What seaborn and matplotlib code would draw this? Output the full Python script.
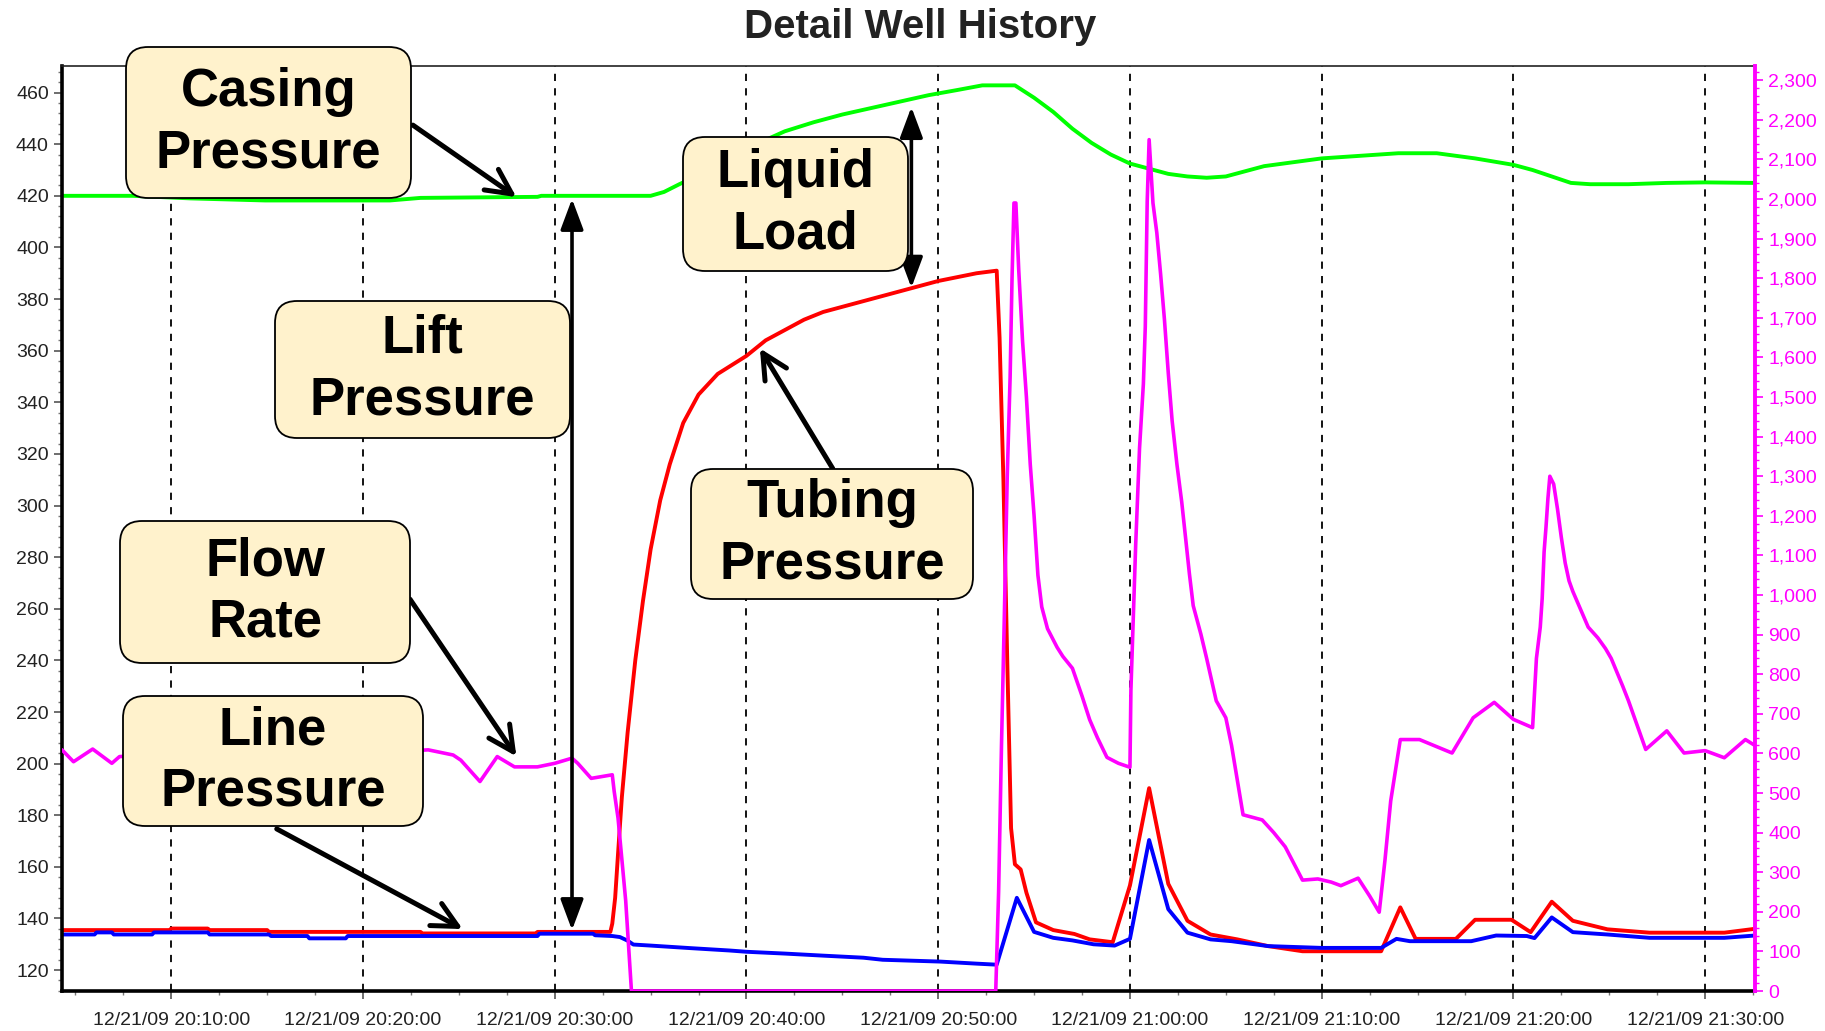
import matplotlib
matplotlib.use("Agg")
import matplotlib.pyplot as plt
import matplotlib.transforms as mtransforms
from matplotlib.patches import FancyBboxPatch
from matplotlib.ticker import MultipleLocator, AutoMinorLocator, FuncFormatter, FixedLocator
import seaborn as sns

# time axis: minutes after 12/21/09 20:00:00
casing_t = [4.3, 8.0, 11.0, 14.9, 21.4, 23.0, 29.1, 29.3, 35.0, 35.7, 36.5, 37.5, 39.0, 40.5, 42.0,
            43.5, 45.0, 46.5, 48.0, 49.5, 51.0, 52.3, 54.0, 55.0, 56.0, 57.0, 58.0, 59.0, 60.0, 61.0,
            62.0, 63.0, 64.0, 65.0, 66.0, 67.0, 68.0, 70.0, 72.0, 74.0, 76.0, 78.0, 80.0, 81.0, 82.0,
            83.0, 84.0, 86.0, 88.0, 90.0, 92.6]
casing_psi = [420.0, 420.0, 419.0, 418.2, 418.2, 419.2, 419.6, 420.0, 420.0, 421.5, 424.5, 428.0, 434.0,
              440.0, 445.0, 448.5, 451.5, 454.0, 456.5, 459.0, 461.0, 462.8, 462.8, 458.0, 452.5, 446.0,
              440.5, 436.0, 432.5, 430.5, 428.5, 427.5, 427.0, 427.5, 429.5, 431.5, 432.5, 434.5, 435.5,
              436.5, 436.5, 434.5, 432.0, 430.0, 427.5, 425.0, 424.5, 424.5, 425.0, 425.2, 425.0]

tubing_t = [4.3, 9.9, 10.0, 11.9, 12.0, 15.0, 15.1, 23.0, 23.1, 29.0, 29.1, 32.9, 33.0, 33.15, 33.3,
            33.5, 33.8, 34.2, 34.6, 35.0, 35.5, 36.0, 36.7, 37.5, 38.5, 40.0, 41.0, 42.0, 43.0, 44.0,
            45.0, 46.0, 47.0, 48.0, 49.0, 50.0, 51.0, 52.0, 53.05, 53.2, 53.4, 53.6, 53.8, 54.0, 54.3,
            54.6, 55.1, 56.0, 57.1, 57.9, 59.1, 60.0, 61.0, 62.0, 63.0, 64.2, 65.6, 67.2, 69.0, 73.1,
            74.1, 74.9, 77.0, 78.0, 79.9, 80.9, 82.0, 83.1, 84.9, 87.1, 91.0, 92.6]
tubing_psi = [135.5, 135.5, 136.1, 136.1, 135.5, 135.5, 134.8, 134.8, 134.2, 134.2, 134.8, 134.8, 138.0,
              148.0, 165.0, 187.0, 212.0, 240.0, 263.0, 283.0, 302.0, 316.0, 332.0, 343.0, 351.0, 358.0,
              364.0, 368.0, 372.0, 375.0, 377.0, 379.0, 381.0, 383.0, 385.0, 387.0, 388.5, 390.0, 391.0,
              365.0, 310.0, 240.0, 175.0, 161.0, 159.0, 150.0, 138.5, 135.5, 134.0, 131.9, 130.8, 152.8,
              190.5, 153.4, 139.1, 133.8, 131.9, 129.3, 127.3, 127.3, 144.3, 132.1, 132.1, 139.5, 139.5,
              134.7, 146.5, 139.1, 135.8, 134.5, 134.5, 136.0]

line_t = [4.3, 6.0, 6.1, 6.9, 7.0, 9.0, 9.1, 11.9, 12.0, 15.1, 15.2, 17.1, 17.2, 19.1, 19.2, 29.1, 29.2,
          32.0, 32.1, 33.0, 33.4, 33.8, 34.1, 35.0, 37.1, 39.1, 40.0, 42.0, 44.0, 46.1, 47.1, 50.1, 52.0,
          53.05, 54.1, 55.0, 56.0, 57.0, 58.1, 59.2, 60.0, 61.0, 62.0, 63.0, 64.2, 65.3, 67.2, 70.0, 73.1,
          73.9, 74.6, 77.8, 79.1, 80.7, 81.1, 82.0, 83.1, 84.9, 87.1, 91.0, 92.6]
line_psi = [133.8, 133.8, 134.6, 134.6, 133.8, 133.8, 134.6, 134.6, 133.8, 133.8, 133.2, 133.2, 132.3,
            132.3, 133.2, 133.2, 134.1, 134.1, 133.5, 133.2, 132.8, 131.4, 129.9, 129.5, 128.5, 127.6,
            127.1, 126.4, 125.6, 124.8, 124.0, 123.3, 122.5, 122.1, 148.0, 134.8, 132.5, 131.5, 130.0,
            129.5, 132.1, 170.4, 143.6, 134.5, 131.9, 131.2, 129.3, 128.6, 128.6, 132.1, 131.2, 131.2,
            133.4, 133.2, 132.4, 140.4, 134.7, 133.8, 132.5, 132.5, 133.4]

flow_t = [4.3, 4.9, 5.9, 6.9, 7.3, 10.0, 14.0, 18.0, 22.0, 23.4, 24.7, 25.1, 26.1, 27.0, 27.9, 29.1,
          30.0, 30.9, 31.2, 31.9, 33.0, 33.1, 33.3, 33.7, 34.0, 53.0, 53.15, 53.3, 53.45, 53.6, 53.75,
          53.85, 53.95, 54.05, 54.2, 54.4, 54.6, 54.8, 55.0, 55.2, 55.4, 55.7, 56.2, 56.5, 57.0, 57.5,
          57.9, 58.3, 58.8, 59.4, 60.0, 60.05, 60.3, 60.5, 60.7, 60.8, 60.9, 61.0, 61.2, 61.4, 61.6,
          61.8, 62.0, 62.2, 62.45, 62.7, 62.9, 63.1, 63.3, 63.7, 64.0, 64.5, 65.0, 65.3, 65.9, 66.9,
          67.5, 68.1, 69.0, 69.8, 70.5, 71.0, 71.9, 72.5, 73.0, 73.3, 73.6, 74.1, 75.1, 76.8, 77.9,
          79.0, 80.0, 81.0, 81.2, 81.4, 81.5, 81.6, 81.7, 81.8, 81.9, 82.1, 82.3, 82.5, 82.7, 82.9,
          83.1, 83.5, 83.9, 84.4, 84.8, 85.1, 85.7, 86.0, 86.9, 88.0, 88.9, 90.0, 91.0, 92.1, 92.6]
flow_rate = [609, 579, 611, 575, 592, 600, 595, 602, 605, 609, 596, 583, 529, 592, 566, 566,
             575, 588, 575, 537, 546, 504, 437, 228, 0, 0, 250, 620, 950, 1300, 1550,
             1800, 1990, 1990, 1820, 1640, 1500, 1330, 1200, 1050, 970, 915, 868, 845, 815, 745,
             685, 640, 590, 575, 565, 760, 1128, 1371, 1533, 1678, 1994, 2150, 1990, 1915, 1810,
             1695, 1560, 1440, 1330, 1235, 1145, 1054, 973, 901, 840, 733, 690, 620, 445, 432,
             400, 364, 280, 283, 275, 266, 285, 240, 199, 330, 480, 635, 635, 601, 690,
             729, 686, 665, 840, 919, 991, 1109, 1172, 1244, 1300, 1280, 1217, 1145, 1081, 1036,
             1009, 964, 919, 892, 865, 840, 770, 733, 610, 657, 601, 607, 589, 635, 620]

left_ticks = list(range(120, 461, 20))
right_ticks = list(range(0, 2301, 100))
time_ticks = list(range(10, 91, 10))

GREEN, RED, BLUE, MAGENTA = "#00ff00", "#ff0000", "#0000ff", "#ff00ff"
BOX_FC = "#fff2cc"

sns.set_style("ticks")
plt.rcParams["font.family"] = ["Liberation Sans", "DejaVu Sans"]

W, H = 1825, 1031
fig = plt.figure(figsize=(W / 100, H / 100), dpi=100)
ax = fig.add_axes([62 / W, 1 - 991 / H, (1755 - 62) / W, (991 - 66) / H])
ax2 = ax.twinx()

lw = 2.8
sns.lineplot(x=casing_t, y=casing_psi, ax=ax, color=GREEN, lw=lw, estimator=None, sort=False)
sns.lineplot(x=tubing_t, y=tubing_psi, ax=ax, color=RED, lw=lw, estimator=None, sort=False)
sns.lineplot(x=line_t, y=line_psi, ax=ax, color=BLUE, lw=lw, estimator=None, sort=False)
sns.lineplot(x=flow_t, y=flow_rate, ax=ax2, color=MAGENTA, lw=2.6, estimator=None, sort=False)

ax.set_xlim(4.3, 92.6)
ax.set_ylim(111.9, 470.3)
ax2.set_ylim(0, 2336)
ax.set_xlabel("")
ax.set_ylabel("")
ax2.set_ylabel("")

ax.xaxis.set_major_locator(FixedLocator(time_ticks))
ax.xaxis.set_minor_locator(MultipleLocator(2.5))
ax.xaxis.set_major_formatter(FuncFormatter(
    lambda m, p: "12/21/09 %d:%02d:00" % (20 + int(round(m)) // 60, int(round(m)) % 60)))
ax.set_yticks(left_ticks)
ax.yaxis.set_minor_locator(AutoMinorLocator(5))
ax2.set_yticks(right_ticks)
ax2.yaxis.set_minor_locator(AutoMinorLocator(5))
ax2.yaxis.set_major_formatter(FuncFormatter(lambda v, p: f"{int(v):,}"))

ax.grid(axis="x", which="major", color="black", linestyle=(0, (4, 4)), lw=1.3)
ax.grid(axis="y", visible=False)

ax.tick_params(axis="both", which="major", direction="out", length=6, width=1.2,
               color="#555555", labelsize=14, labelcolor="#222222")
ax.tick_params(axis="both", which="minor", direction="out", length=3, width=1, color="#777777")
ax.tick_params(axis="x", pad=9)
ax2.tick_params(axis="y", which="major", direction="out", length=6, width=1.2,
                color=MAGENTA, labelsize=14, labelcolor=MAGENTA)
ax2.tick_params(axis="y", which="minor", direction="out", length=3, width=1, color=MAGENTA)

for s in ("left", "bottom"):
    ax.spines[s].set_linewidth(2.6)
    ax.spines[s].set_color("black")
ax.spines["top"].set_linewidth(1.2)
ax.spines["top"].set_color("#222222")
ax.spines["right"].set_visible(False)
for s in ("left", "bottom", "top"):
    ax2.spines[s].set_visible(False)
ax2.spines["right"].set_color(MAGENTA)
ax2.spines["right"].set_linewidth(2.8)

fig.text(0.504, 0.974, "Detail Well History", ha="center", va="center",
         fontsize=29, fontweight="bold", color="#222222")

# arrows, in the left axis data coordinates
dt = ax.transData
arrow_open = dict(arrowstyle="->,head_length=0.9,head_width=0.45", lw=3.6, color="black",
                  shrinkA=0, shrinkB=0, mutation_scale=20)
arrow_both = dict(arrowstyle="<|-|>,head_length=0.75,head_width=0.28", lw=2.6, color="black",
                  shrinkA=0, shrinkB=0, mutation_scale=25)
ax2.annotate("", xy=(28.0, 419.5), xytext=(22.6, 447.4), xycoords=dt, textcoords=dt, arrowprops=arrow_open)
ax2.annotate("", xy=(40.7, 360.9), xytext=(44.5, 314.3), xycoords=dt, textcoords=dt, arrowprops=arrow_open)
ax2.annotate("", xy=(28.0, 202.8), xytext=(22.45, 263.7), xycoords=dt, textcoords=dt, arrowprops=arrow_open)
ax2.annotate("", xy=(25.2, 135.9), xytext=(15.5, 174.7), xycoords=dt, textcoords=dt, arrowprops=arrow_open)
ax2.annotate("", xy=(30.9, 135.5), xytext=(30.9, 418.8), xycoords=dt, textcoords=dt, arrowprops=arrow_both)
ax2.annotate("", xy=(48.6, 384.4), xytext=(48.6, 454.4), xycoords=dt, textcoords=dt, arrowprops=arrow_both)

# callout boxes, pixel rectangles (x0, x1, y_top, y_bottom) measured from the top-left corner
callouts = [
    ("Casing\nPressure", 126, 411, 47, 198),
    ("Liquid\nLoad", 683, 908, 137, 271),
    ("Lift\nPressure", 275, 570, 301, 438),
    ("Tubing\nPressure", 691, 973, 469, 599),
    ("Flow\nRate", 120, 410, 521, 663),
    ("Line\nPressure", 123, 423, 696, 826),
]
px = mtransforms.IdentityTransform()
for label, x0, x1, yt, yb in callouts:
    box = FancyBboxPatch((x0, H - yb), x1 - x0, yb - yt,
                         boxstyle="round,pad=0,rounding_size=22",
                         fc=BOX_FC, ec="black", lw=1.3, transform=px, zorder=5)
    fig.add_artist(box)
    fig.text((x0 + x1) / 2 / W, 1 - (yt + yb) / 2 / H, label, ha="center", va="center",
             fontsize=38, fontweight="bold", color="black", linespacing=1.3, zorder=6)

fig.savefig("out.png", dpi=100)
